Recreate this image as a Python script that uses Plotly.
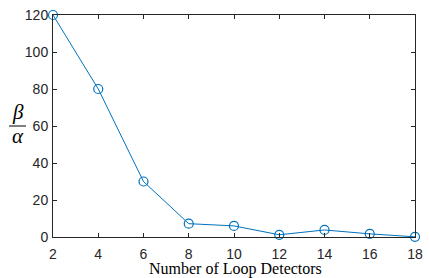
import plotly.graph_objects as go

detectors = [2, 4, 6, 8, 10, 12, 14, 16, 18]
ratio = [120, 80, 30, 7.2, 6.0, 1.2, 3.8, 1.7, 0.1]
x_ticks = [2, 4, 6, 8, 10, 12, 14, 16, 18]
y_ticks = [0, 20, 40, 60, 80, 100, 120]

L, R, T, B = 53, 14, 15, 41
W, H = 429 - L - R, 278 - T - B
def dx(px): return (px - L) / W
def dy(py): return 1 - (py - T) / H

fig = go.Figure()
fig.add_trace(go.Scatter(
    x=detectors, y=ratio, mode="lines+markers",
    line=dict(color="#0072BD", width=1),
    marker=dict(symbol="circle-open", size=9, color="#0072BD", line=dict(width=1.2)),
    cliponaxis=False, showlegend=False))

axis_common = dict(showline=True, linecolor="#262626", linewidth=1, mirror="ticks",
                   ticks="inside", ticklen=4, tickcolor="#262626", showgrid=False,
                   zeroline=False, automargin=False,
                   tickfont=dict(family="Arial, Liberation Sans", size=14, color="#262626"))
fig.update_xaxes(range=[2, 18], tickvals=x_ticks, ticklabelstandoff=4, **axis_common)
fig.update_yaxes(range=[0, 120], tickvals=y_ticks, ticklabelstandoff=1, **axis_common)

serif = "Times New Roman, Liberation Serif"
fig.add_annotation(text="Number of Loop Detectors", xref="x domain", yref="y domain",
                   x=dx(235), y=dy(269), xanchor="center", yanchor="middle", showarrow=False,
                   font=dict(family=serif, size=16, color="#000"))
fig.add_annotation(text="<i>β</i>", xref="x domain", yref="y domain",
                   x=dx(18), y=dy(112), xanchor="center", yanchor="middle", showarrow=False,
                   font=dict(family=serif, size=21, color="#000"))
fig.add_annotation(text="<i>α</i>", xref="x domain", yref="y domain",
                   x=dx(18), y=dy(136), xanchor="center", yanchor="middle", showarrow=False,
                   font=dict(family=serif, size=21, color="#000"))
fig.add_shape(type="line", xref="x domain", yref="y domain",
              x0=dx(9), x1=dx(26), y0=dy(126), y1=dy(126),
              line=dict(color="#000", width=1))

fig.update_layout(width=429, height=278, margin=dict(l=L, r=R, t=T, b=B),
                  plot_bgcolor="white", paper_bgcolor="white")
fig.write_html("out.html", config={"displayModeBar": False},
               post_script="document.body.style.margin='0';document.body.style.overflow='hidden';")
